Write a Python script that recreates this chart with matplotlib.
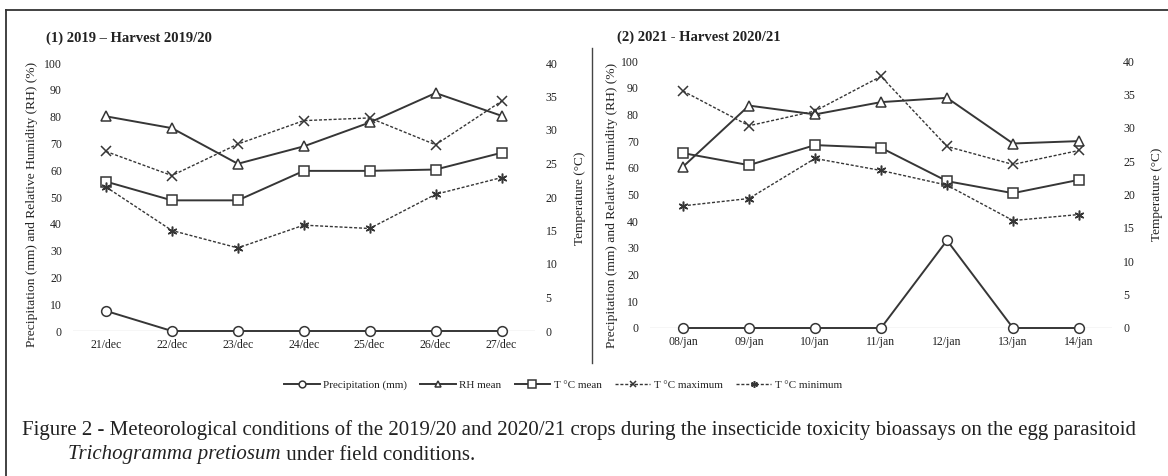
import matplotlib.pyplot as plt
from matplotlib.lines import Line2D

plt.rcParams['font.family'] = ['Liberation Serif', 'DejaVu Serif']

# 2019/20 season (21-27 Dec)
days_1 = ['21/dec', '22/dec', '23/dec', '24/dec', '25/dec', '26/dec', '27/dec']
precip_1 = [7.5, 0, 0, 0, 0, 0, 0]
rh_1 = [80.1, 75.7, 62.4, 68.9, 77.8, 88.8, 80.3]
tmean_1 = [22.3, 19.5, 19.5, 23.9, 23.9, 24.1, 26.6]
tmax_1 = [26.8, 23.2, 27.9, 31.4, 31.8, 27.8, 34.3]
tmin_1 = [21.5, 15.0, 12.4, 15.8, 15.3, 20.4, 22.9]

# 2020/21 season (08-14 Jan)
days_2 = ['08/jan', '09/jan', '10/jan', '11/jan', '12/jan', '13/jan', '14/jan']
precip_2 = [0, 0, 0, 0, 32.8, 0, 0]
rh_2 = [60.4, 83.3, 80.0, 84.6, 86.2, 69.1, 70.0]
tmean_2 = [26.2, 24.4, 27.4, 27.0, 22.0, 20.2, 22.2]
tmax_2 = [35.5, 30.3, 32.5, 37.7, 27.2, 24.5, 26.6]
tmin_2 = [18.3, 19.4, 25.4, 23.6, 21.4, 16.1, 17.0]

W, H = 1168, 476
LC = '#363636'
TC = '#222222'

fig = plt.figure(figsize=(W / 100, H / 100), dpi=100)


def axes_px(x0, x1, y_top, y_bot):
    return fig.add_axes([x0 / W, 1 - y_bot / H, (x1 - x0) / W, (y_bot - y_top) / H])


def panel(ax, days, precip, rh, tmean, tmax, tmin):
    x = range(len(days))
    ax.axhline(0, color='#d4d4d4', lw=1.0, zorder=0)
    ax.plot(x, precip, color=LC, lw=1.4, marker='o', ms=7, mfc='white',
            mec=LC, mew=1.1, clip_on=False, label='Precipitation (mm)')
    ax.plot(x, rh, color=LC, lw=1.4, marker='^', ms=7, mfc='white',
            mec=LC, mew=1.1, clip_on=False, label='RH mean')
    ax.set_xlim(-0.5, len(days) - 0.5)
    ax.set_ylim(0, 100)
    ax.set_yticks(range(0, 101, 10))
    ax.set_xticks(list(x))
    ax.set_xticklabels(days)

    axt = ax.twinx()
    axt.plot(x, tmean, color=LC, lw=1.4, marker='s', ms=7.5, mfc='white',
             mec=LC, mew=1.1, clip_on=False, label='T °C mean')
    axt.plot(x, tmax, color=LC, lw=1.0, ls=(0, (2.2, 1.3)), marker='x', ms=7,
             mec=LC, mew=1.1, clip_on=False, label='T °C maximum')
    axt.plot(x, tmin, color=LC, lw=1.0, ls=(0, (2.2, 1.3)), marker=(6, 2, 0),
             ms=7, mec=LC, mew=1.1, clip_on=False, label='T °C minimum')
    axt.set_ylim(0, 40)
    axt.set_yticks(range(0, 41, 5))

    for a in (ax, axt):
        for s in a.spines.values():
            s.set_visible(False)
        a.patch.set_alpha(0)
    ax.tick_params(axis='y', length=0, pad=8, labelsize=8.5, labelcolor=TC)
    ax.tick_params(axis='x', length=0, pad=6, labelsize=8.5, labelcolor=TC)
    axt.tick_params(axis='y', length=0, pad=8, labelsize=8.5, labelcolor=TC)
    return axt


ax1 = axes_px(73, 534.5, 63, 331)
ax1t = panel(ax1, days_1, precip_1, rh_1, tmean_1, tmax_1, tmin_1)
ax2 = axes_px(650, 1112, 61, 328)
ax2t = panel(ax2, days_2, precip_2, rh_2, tmean_2, tmax_2, tmin_2)


def ftext(x, y, s, **kw):
    return fig.text(x / W, 1 - y / H, s, color=TC, **kw)


ftext(46, 38, '(1) 2019 – Harvest 2019/20', fontsize=10.5, fontweight='bold', va='center')
ftext(617, 37, '(2) 2021 - Harvest 2020/21', fontsize=10.5, fontweight='bold', va='center')

ylab = 'Precipitation (mm) and Relative Humidity (RH) (%)'
ftext(32, 204, ylab, fontsize=9.7, rotation=90, ha='center', va='center')
ftext(612, 205, ylab, fontsize=9.7, rotation=90, ha='center', va='center')
ftext(580, 198, 'Temperature (°C)', fontsize=9.5, rotation=90, ha='center', va='center')
ftext(1157, 194, 'Temperature (°C)', fontsize=9.5, rotation=90, ha='center', va='center')

# shared legend
h1, l1 = ax1.get_legend_handles_labels()
h2, l2 = ax1t.get_legend_handles_labels()
fig.legend(h1 + h2, l1 + l2, loc='center', bbox_to_anchor=(563 / W, 1 - 385 / H),
           ncol=5, frameon=False, fontsize=8, handlelength=3.2,
           handletextpad=0.3, columnspacing=1.2, labelcolor=TC, markerscale=0.7)

# frame lines and separator
fig.add_artist(Line2D([6 / W, 6 / W], [0, 1 - 10 / H], color='#333333', lw=1.3))
fig.add_artist(Line2D([6 / W, 1], [1 - 10 / H, 1 - 10 / H], color='#333333', lw=1.3))
fig.add_artist(Line2D([592 / W, 592 / W], [1 - 48 / H, 1 - 363 / H], color='#444444', lw=1.0))

# caption
ftext(22, 430, 'Figure 2 - Meteorological conditions of the 2019/20 and 2020/21 crops '
      'during the insecticide toxicity bioassays on the egg parasitoid',
      fontsize=15, va='center')
t_it = ftext(68, 455, 'Trichogramma pretiosum', fontsize=15, style='italic', va='center')
ax1.annotate(' under field conditions.', xy=(1, 0), xycoords=t_it, va='bottom',
             ha='left', fontsize=15, color=TC, annotation_clip=False)

fig.savefig('out.png', dpi=100)
